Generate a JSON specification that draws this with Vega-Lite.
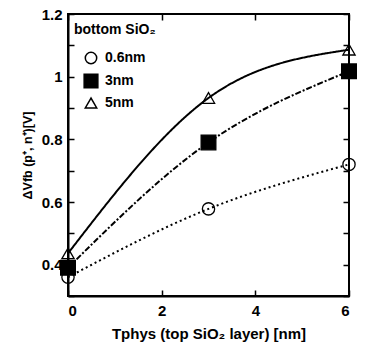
{
  "$schema": "https://vega.github.io/schema/vega-lite/v6.json",
  "width": 281,
  "height": 282,
  "padding": {"left": 21, "top": 7, "right": 10, "bottom": 5},
  "background": "white",
  "config": {
    "font": "Liberation Sans",
    "view": {"stroke": "black", "strokeWidth": 2},
    "axis": {
      "labelFont": "Liberation Sans", "labelFontWeight": "bold", "labelFontSize": 15, "labelColor": "black",
      "titleFont": "Liberation Sans", "titleFontWeight": "bold", "titleFontSize": 15, "titleColor": "black",
      "domainColor": "black", "domainWidth": 2, "tickColor": "black", "tickWidth": 1.5,
      "grid": false
    },
    "legend": {
      "titleFont": "Liberation Sans", "titleFontWeight": "bold", "titleFontSize": 14, "titleColor": "black",
      "labelFont": "Liberation Sans", "labelFontWeight": "bold", "labelFontSize": 14, "labelColor": "black"
    }
  },
  "data": {"values": [
    {"t": 0, "v": 0.36, "s": "0.6nm"},
    {"t": 3, "v": 0.578, "s": "0.6nm"},
    {"t": 6, "v": 0.72, "s": "0.6nm"},
    {"t": 0, "v": 0.39, "s": "3nm"},
    {"t": 3, "v": 0.79, "s": "3nm"},
    {"t": 6, "v": 1.017, "s": "3nm"},
    {"t": 0, "v": 0.436, "s": "5nm"},
    {"t": 3, "v": 0.932, "s": "5nm"},
    {"t": 6, "v": 1.086, "s": "5nm"}
  ]},
  "resolve": {"axis": {"x": "independent", "y": "independent"}},
  "layer": [
    {
      "mark": {"type": "line", "interpolate": "natural", "color": "black", "strokeWidth": 2},
      "encoding": {
        "x": {"field": "t", "type": "quantitative", "scale": {"domain": [0, 6], "nice": false},
              "axis": {"orient": "bottom", "values": [0, 2, 4, 6], "tickSize": -6, "labelPadding": 13, "title": "Tphys (top SiO₂ layer) [nm]", "titlePadding": 8}},
        "y": {"field": "v", "type": "quantitative", "scale": {"domain": [0.3, 1.2], "nice": false, "zero": false},
              "axis": {"orient": "left", "values": [0.3, 0.4, 0.5, 0.6, 0.7, 0.8, 0.9, 1.0, 1.1, 1.2], "tickSize": -6, "labelPadding": 12,
                       "labelExpr": "round(datum.value*10)%2==0 ? format(datum.value,'~g') : ''", "title": "ΔVfb (p⁺, n⁺)[V]", "titleFontSize": 12.5, "titlePadding": 7}},
        "strokeDash": {"field": "s", "type": "nominal", "legend": null,
                       "scale": {"range": [[2, 3], [6, 2, 2, 2], [1, 0]]}}
      }
    },
    {
      "mark": {"type": "point", "filled": true, "stroke": "black", "strokeWidth": 1.3, "opacity": 1, "size": 150},
      "encoding": {
        "x": {"field": "t", "type": "quantitative",
              "axis": {"orient": "top", "values": [0, 2, 4, 6], "tickSize": -6, "labels": false, "title": null, "domain": false}},
        "y": {"field": "v", "type": "quantitative",
              "axis": {"orient": "right", "values": [0.3, 0.4, 0.5, 0.6, 0.7, 0.8, 0.9, 1.0, 1.1, 1.2], "tickSize": -6, "labels": false, "title": null, "domain": false}},
        "shape": {"field": "s", "type": "nominal", "title": "bottom SiO₂",
                  "scale": {"domain": ["0.6nm", "3nm", "5nm"], "range": ["circle", "M-1.2,-1.2H1.2V1.2H-1.2Z", "triangle-up"]},
                  "legend": {"orient": "none", "legendX": 6, "legendY": 9, "padding": 0, "symbolSize": 130, "rowPadding": 4, "titlePadding": 14, "labelOffset": 7, "symbolOffset": 10,
                             "encode": {"symbols": {"update": {"stroke": {"value": "black"}, "strokeWidth": {"value": 1.3}, "opacity": {"value": 1}}}}}},
        "fill": {"field": "s", "type": "nominal", "title": "bottom SiO₂",
                 "scale": {"domain": ["0.6nm", "3nm", "5nm"], "range": ["transparent", "black", "transparent"]}}
      }
    }
  ]
}
